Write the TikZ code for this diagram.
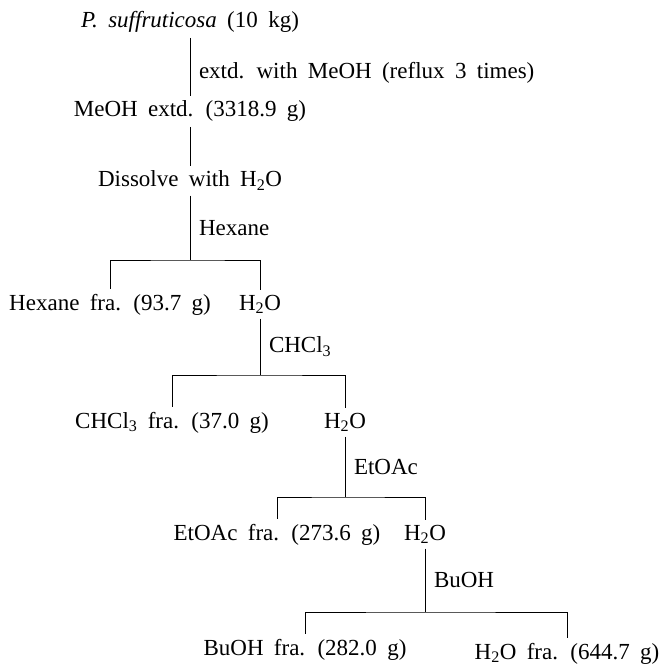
\documentclass[tikz,border=0pt]{standalone}
\usepackage{fontspec}
\setmainfont{Liberation Serif}
\usetikzlibrary{positioning}
\newcommand{\widesp}{\spaceskip 0.45em\relax}
\tikzset{
    txt/.style ={anchor=base, inner sep=0pt, outer sep=5pt,
                 font=\fontsize{23}{27}\selectfont\widesp},
    lbl/.style ={txt, inner sep=0pt, outer sep=0pt},
    ln/.style  ={line width=0.8pt, draw=black}
}
\newcommand{\water}{H\textsubscript{2}O}

\begin{document}
\begin{tikzpicture}[x=1pt, y=-1pt]
  \useasboundingbox (0,0) rectangle (659,668);

  % extraction
  \node[txt] (src)  at (190, 28) {\textit{P. suffruticosa} (10 kg)};
  \node[txt] (meoh) at (190,117) {MeOH extd. (3318.9 g)};
  \node[txt] (diss) at (190,187) {Dissolve with \water};

  % solvent partition, one row per step
  \node[txt] (hexfr) at (110,310) {Hexane fra. (93.7 g)};
  \node[txt] (w1)    at (260,310) {\water};
  \node[txt] (chfr)  at (172,428) {CHCl\textsubscript{3} fra. (37.0 g)};
  \node[txt] (w2)    at (345,428) {\water};
  \node[txt] (eafr)  at (277,540) {EtOAc fra. (273.6 g)};
  \node[txt] (w3)    at (425,540) {\water};
  \node[txt] (bufr)  at (305,655) {BuOH fra. (282.0 g)};
  \node[txt] (wfr)   at (567,659) {\water{} fra. (644.7 g)};

  % branch points
  \coordinate (j1) at (190,260);
  \coordinate (j2) at (260,375);
  \coordinate (j3) at (345,497);
  \coordinate (j4) at (425,612);

  \draw[ln] (src) -- node[lbl, right=9pt, pos=0.6] {extd. with MeOH (reflux 3 times)} (meoh);
  \draw[ln] (meoh) -- (diss);

  \draw[ln] (diss) -- node[lbl, right=9pt] {Hexane} (j1);
  \draw[ln] (hexfr) |- (j1) -| (w1);

  \draw[ln] (w1) -- node[lbl, right=9pt] {CHCl\textsubscript{3}} (j2);
  \draw[ln] (chfr) |- (j2) -| (w2);

  \draw[ln] (w2) -- node[lbl, right=9pt] {EtOAc} (j3);
  \draw[ln] (eafr) |- (j3) -| (w3);

  \draw[ln] (w3) -- node[lbl, right=9pt] {BuOH} (j4);
  \draw[ln] (bufr) |- (j4) -| (wfr);
\end{tikzpicture}
\end{document}
